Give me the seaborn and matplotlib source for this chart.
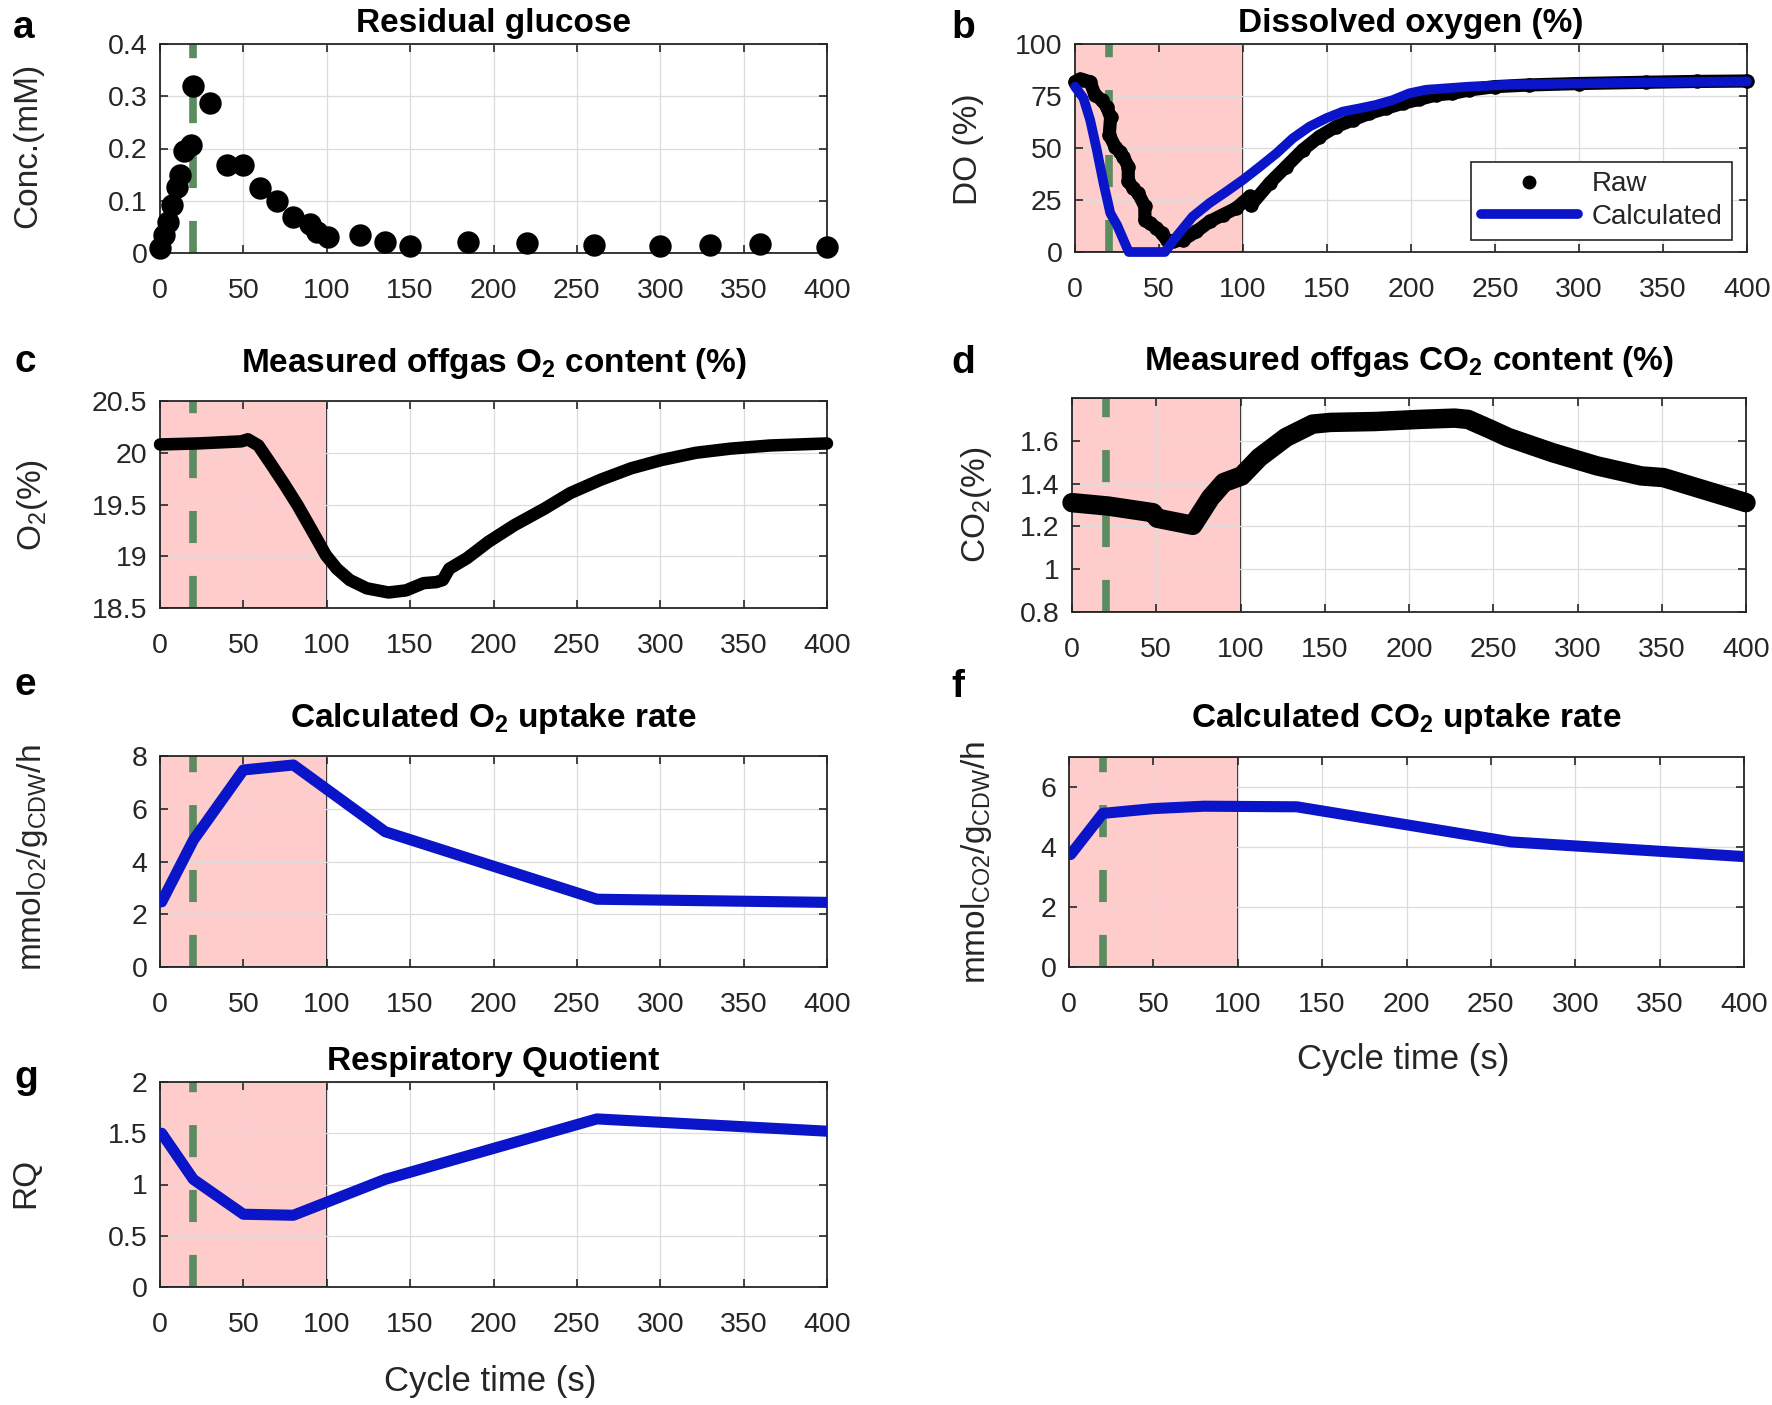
import matplotlib
matplotlib.use("Agg")
import matplotlib.pyplot as plt
import matplotlib.transforms as mtransforms
from matplotlib.lines import Line2D
from matplotlib.ticker import FuncFormatter
import seaborn as sns

# ------------------------------------------------------------------ data
FEED_TIME = 20          # s, green dashed marker
WINDOW = (0, 100)       # s, shaded window

# a) residual glucose (mM)
glc_t = [0, 2.4, 4.6, 7.4, 10, 12, 14.4, 18.4, 20, 30, 40, 50, 60, 70, 80, 90, 94,
         101, 120, 135, 150, 185, 220, 260, 300, 330, 360, 400]
glc_c = [0.010, 0.035, 0.059, 0.091, 0.126, 0.149, 0.195, 0.206, 0.319, 0.287, 0.169,
         0.168, 0.124, 0.099, 0.069, 0.056, 0.041, 0.031, 0.034, 0.021, 0.014, 0.021,
         0.020, 0.016, 0.014, 0.015, 0.017, 0.012]

# b) dissolved oxygen (%)
do_raw_t = [0, 3, 5, 8.9, 11.9, 15.8, 18.8, 21.2, 20.4, 23.8, 26.7, 28.7, 31.7, 31.7,
            34.7, 37.6, 41.6, 41.6, 44.6, 48.5, 51.5, 54.5, 58.4, 64.4, 72.3, 80.2,
            88.1, 96, 104, 104.9, 115.8, 125.7, 135.6, 145.5, 155.4, 165.3, 175.2,
            185.1, 195, 204.9, 214.8, 224.7, 234.6, 250, 270, 300, 340, 370, 400]
do_raw = [81.9, 83.0, 82.7, 81.9, 75.5, 73.1, 69.9, 64.8, 56.3, 50.7, 48.3, 45.9, 41.1,
          33.9, 30.7, 28.3, 21.9, 15.5, 13.9, 11.5, 9.1, 5.9, 5.1, 5.9, 9.9, 14.7,
          17.9, 21.1, 26.7, 22.7, 33.1, 41.1, 49.1, 55.5, 60.3, 63.5, 66.7, 69.1,
          71.5, 73.4, 75.5, 76.3, 77.9, 79.5, 80.3, 81.0, 81.6, 82.0, 82.2]
do_calc_t = [0, 5, 9, 13, 17, 21, 25, 32, 53.5, 60.4, 70, 80, 90, 100, 110, 120, 129.7,
             139.6, 149.5, 159.4, 169, 179, 189, 199, 209, 234.6, 260, 300, 350, 400]
do_calc = [79.5, 74, 63.5, 49, 33, 18.7, 13, 0, 0, 7.5, 17, 23.5, 29, 34.7, 41, 47.5,
           54.7, 60.3, 64.3, 67.5, 69, 70.7, 73, 76.3, 78, 79.5, 80.5, 81, 81.6, 82]

# c) off-gas O2 (%)
o2_t = [0, 22.9, 48.8, 52.7, 59, 67, 74.8, 82.6, 90.4, 99.5, 106, 113.8, 124, 137,
        147.5, 158, 165.7, 169.6, 173.5, 184, 197, 212.5, 230.6, 246, 264.4, 282.6,
        300.8, 321.5, 342.3, 365.7, 400]
o2_pct = [20.08, 20.09, 20.11, 20.13, 20.07, 19.88, 19.69, 19.49, 19.27, 19.01, 18.88,
          18.77, 18.69, 18.65, 18.67, 18.74, 18.75, 18.77, 18.88, 18.98, 19.14, 19.30,
          19.46, 19.61, 19.74, 19.85, 19.93, 20.00, 20.04, 20.07, 20.09]

# d) off-gas CO2 (%)
co2_t = [0, 21.6, 48, 50.6, 71.7, 82.2, 90.1, 100.7, 111.2, 127, 142.8, 153.4, 179.7,
         206, 227, 235, 248, 258.8, 285, 311.5, 337.8, 351, 364, 377, 400]
co2_pct = [1.311, 1.295, 1.264, 1.238, 1.205, 1.334, 1.405, 1.436, 1.522, 1.616, 1.678,
           1.686, 1.690, 1.700, 1.706, 1.700, 1.655, 1.616, 1.545, 1.483, 1.436, 1.428,
           1.397, 1.366, 1.311]

# e-g) calculated rates
rate_t = [1, 20, 50, 80, 135, 262, 400]
our = [2.47, 4.81, 7.47, 7.66, 5.13, 2.57, 2.45]
cer = [3.75, 5.12, 5.28, 5.36, 5.34, 4.17, 3.68]
rq = [1.50, 1.05, 0.71, 0.70, 1.05, 1.64, 1.52]

# ------------------------------------------------------------------ style
sns.set_theme(style="white")
plt.rcParams['font.family'] = ['Liberation Sans', 'DejaVu Sans']
plt.rcParams['mathtext.fontset'] = 'custom'
plt.rcParams['mathtext.rm'] = 'Liberation Sans'
plt.rcParams['mathtext.it'] = 'Liberation Sans:italic'
plt.rcParams['mathtext.bf'] = 'Liberation Sans:bold'
plt.rcParams['mathtext.default'] = 'regular'

BLUE = '#0a14c8'
GREEN = '#5a8c5f'
PINK = '#ffcccc'
DARK = '#262626'

W, H = 1772, 1405
fig = plt.figure(figsize=(W / 100, H / 100), dpi=100)


def add_ax(l, r, t, b):
    return fig.add_axes([l / W, 1 - b / H, (r - l) / W, (b - t) / H])


def style(ax, ylim, yticks, window=True):
    ax.set_xlim(0, 400)
    ax.set_xticks(range(0, 401, 50))
    ax.set_ylim(*ylim)
    ax.set_yticks(yticks)
    ax.yaxis.set_major_formatter(FuncFormatter(lambda v, p: f'{v:g}'))
    ax.set_axisbelow('line')
    ax.grid(True, color='#dcdcdc', lw=0.9)
    ax.tick_params(direction='in', length=6, width=1.2, colors=DARK, labelcolor=DARK,
                   top=True, right=True, bottom=True, left=True,
                   labelbottom=True, labelleft=True, labelsize=20.5)
    ax.tick_params(axis='x', pad=18)
    ax.tick_params(axis='y', pad=9)
    for s in ax.spines.values():
        s.set_visible(True)
        s.set_color(DARK)
        s.set_linewidth(1.3)
    ax.set_xlabel('')
    ax.set_ylabel('')
    if window:
        ax.axvspan(*WINDOW, facecolor=PINK, edgecolor='black', lw=1.2, zorder=1)
    ax.plot([FEED_TIME, FEED_TIME], list(ylim), color=GREEN, lw=5.5,
            ls=(0, (4.2, 4.3)), zorder=2, solid_capstyle='butt')


def title(ax, text, pad_px):
    tr = mtransforms.offset_copy(ax.transAxes, fig=fig, x=0, y=pad_px, units='dots')
    ax.text(0.5, 1.0, text, transform=tr, ha='center', va='baseline',
            fontsize=24, fontweight='bold', color='black')


def ylab(x, y, text):
    fig.text(x / W, 1 - y / H, text, rotation=90, ha='center', va='center',
             fontsize=24, color=DARK)


def letter(x, y, text):
    fig.text(x / W, 1 - y / H, text, ha='left', va='baseline', fontsize=28,
             fontweight='bold', color='black')


# a ---------------------------------------------------------------
ax = add_ax(160, 827, 44, 253)
style(ax, (0, 0.4), [0, 0.1, 0.2, 0.3, 0.4], window=False)
sns.scatterplot(x=glc_t, y=glc_c, ax=ax, color='black', s=260, linewidth=0,
                zorder=3, clip_on=False, legend=False)
ax.set_xlabel(''); ax.set_ylabel('')
title(ax, 'Residual glucose', 12)
ylab(28, 145, 'Conc.(mM)')
letter(13, 38, 'a')

# b ---------------------------------------------------------------
ax = add_ax(1075, 1747, 44, 252)
style(ax, (0, 100), [0, 25, 50, 75, 100])
sns.lineplot(x=do_raw_t, y=do_raw, ax=ax, color='black', linewidth=9.5, sort=False,
             estimator=None, zorder=3, clip_on=False, legend=False)
sns.scatterplot(x=do_raw_t, y=do_raw, ax=ax, color='black', s=110, linewidth=0,
                zorder=3, clip_on=False, legend=False)
sns.lineplot(x=do_calc_t, y=do_calc, ax=ax, color=BLUE, linewidth=7, sort=False,
             estimator=None, zorder=4, clip_on=False, legend=False)
ax.set_xlabel(''); ax.set_ylabel('')
handles = [Line2D([], [], marker='o', ls='none', color='black', ms=9),
           Line2D([], [], color=BLUE, lw=7)]
leg = ax.legend(handles, ['Raw', 'Calculated'], loc='lower right',
                bbox_to_anchor=(0.978, 0.058), fontsize=20, frameon=True,
                fancybox=False, edgecolor=DARK, framealpha=1, handlelength=3.5,
                handletextpad=0.5, borderpad=0.35, labelspacing=0.25, borderaxespad=0)
leg.get_frame().set_linewidth(1.2)
leg.set_zorder(10)
title(ax, 'Dissolved oxygen (%)', 12)
ylab(968, 149, 'DO (%)')
letter(951, 38, 'b')

# c ---------------------------------------------------------------
ax = add_ax(160, 827, 401, 608)
style(ax, (18.5, 20.5), [18.5, 19, 19.5, 20, 20.5])
sns.lineplot(x=o2_t, y=o2_pct, ax=ax, color='black', linewidth=9, sort=False,
             estimator=None, zorder=3, clip_on=False, legend=False,
             solid_capstyle='round')
ax.set_xlabel(''); ax.set_ylabel('')
title(ax, r'Measured offgas O$_{\mathbf{2}}$ content (%)', 29)
ylab(33, 505, r'O$_2$(%)')
letter(14, 372, 'c')

# d ---------------------------------------------------------------
ax = add_ax(1072, 1746, 398, 612)
style(ax, (0.8, 1.8), [0.8, 1.0, 1.2, 1.4, 1.6])
sns.lineplot(x=co2_t, y=co2_pct, ax=ax, color='black', linewidth=14, sort=False,
             estimator=None, zorder=3, clip_on=False, legend=False,
             solid_capstyle='round')
ax.set_xlabel(''); ax.set_ylabel('')
title(ax, r'Measured offgas CO$_{\mathbf{2}}$ content (%)', 28)
ylab(977, 505, r'CO$_2$(%)')
letter(951, 373, 'd')

# e ---------------------------------------------------------------
ax = add_ax(160, 827, 756, 967)
style(ax, (0, 8), [0, 2, 4, 6, 8])
sns.lineplot(x=rate_t, y=our, ax=ax, color=BLUE, linewidth=8, sort=False,
             estimator=None, zorder=3, legend=False)
ax.set_xlabel(''); ax.set_ylabel('')
title(ax, r'Calculated O$_{\mathbf{2}}$ uptake rate', 29)
ylab(33, 858, r'mmol$_{\mathrm{O2}}$/g$_{\mathrm{CDW}}$/h')
letter(14, 695, 'e')

# f ---------------------------------------------------------------
ax = add_ax(1069, 1744, 757, 967)
style(ax, (0, 7), [0, 2, 4, 6])
sns.lineplot(x=rate_t, y=cer, ax=ax, color=BLUE, linewidth=8, sort=False,
             estimator=None, zorder=3, legend=False)
ax.set_xlabel(''); ax.set_ylabel('')
title(ax, r'Calculated CO$_{\mathbf{2}}$ uptake rate', 30)
ylab(977, 862, r'mmol$_{\mathrm{CO2}}$/g$_{\mathrm{CDW}}$/h')
letter(951, 697, 'f')
fig.text(1403 / W, 1 - 1060 / H, 'Cycle time (s)', ha='center', va='center',
         fontsize=25, color=DARK)

# g ---------------------------------------------------------------
ax = add_ax(160, 827, 1082, 1287)
style(ax, (0, 2), [0, 0.5, 1, 1.5, 2])
sns.lineplot(x=rate_t, y=rq, ax=ax, color=BLUE, linewidth=8, sort=False,
             estimator=None, zorder=3, legend=False)
ax.set_xlabel(''); ax.set_ylabel('')
title(ax, 'Respiratory Quotient', 12)
ylab(26, 1183, 'RQ')
letter(14, 1088, 'g')
fig.text(490 / W, 1 - 1382 / H, 'Cycle time (s)', ha='center', va='center',
         fontsize=25, color=DARK)

fig.savefig('out.png', dpi=100, facecolor='white')
